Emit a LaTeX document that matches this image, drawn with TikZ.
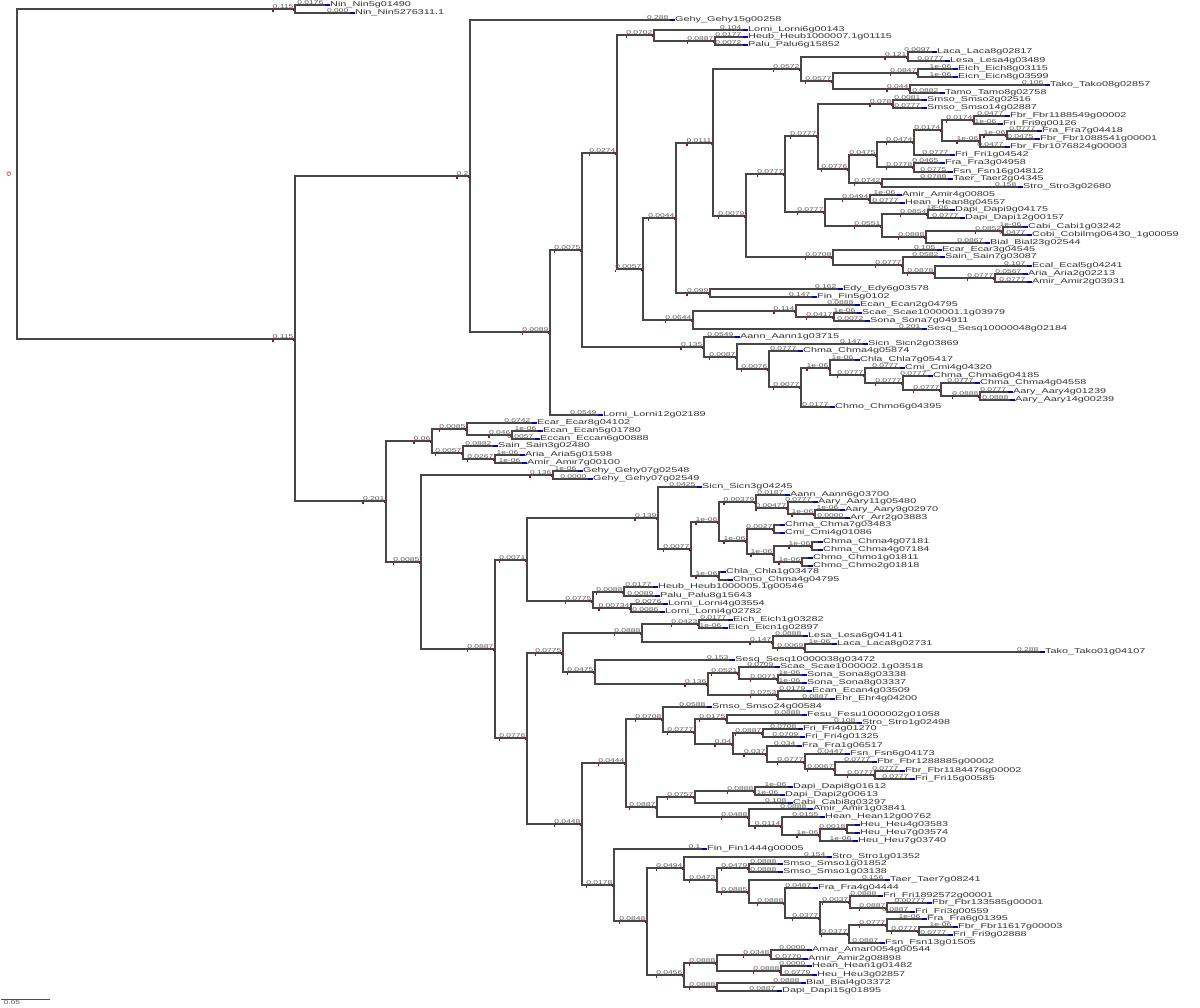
\documentclass[tikz,border=0pt]{standalone}
\usepackage{fontspec}
\newfontfamily\lblfont[FakeStretch=1.55]{Liberation Sans}
\tikzset{
  br/.style={draw=black!72, line width=1.1pt},
  bt/.style={draw=blue!75!black, line width=1.4pt},
  rd/.style={fill=red!75!black},
  lf/.style={anchor=west, inner sep=0pt, text=black!80, font=\lblfont\fontsize{7}{7}\selectfont, text height=4.5pt, text depth=1pt},
  bl/.style={anchor=south east, inner sep=0.4pt, text=black!65, font=\lblfont\fontsize{5.5}{5.5}\selectfont},
}
\newcommand\tnode[5]{%
  \coordinate (#2) at (#3,#4);
  \draw[br] (#1) |- (#2);
  \node[bl] (L#2) at ([xshift=-1pt]#2) {#5};
  \fill[rd] ([yshift=-1.2pt]L#2.south west) rectangle ++(1.6pt,-1.6pt);
  \fill[rd] ([xshift=-2pt,yshift=0.8pt]#2) rectangle ++(1.6pt,-2.4pt);
}
\newcommand\tleaf[6]{%
  \node[lf] (#2) at (#3,#4) {#6};
  \draw[br] (#1) |- ([xshift=-5pt]#2.west);
  \draw[bt] ([xshift=-5pt]#2.west) -- (#2.west);
  \node[bl] at ([xshift=-6pt]#2.west) {#5};
}
\begin{document}
\begin{tikzpicture}[x=1pt,y=-1pt]
\fill[white] (0,0) rectangle (1200,1008);
\useasboundingbox (0,0) rectangle (1200,1008);
\coordinate (r) at (17,174);
\node[bl, anchor=center, rotate=90, text=red!75!black] (rootlab) at (9,174) {0};
% ---------- top ----------
\tnode{r}{N1}{295}{9}{0.115}
\tleaf{N1}{nin1}{330}{5}{0.0176}{Nin\_Nin5g01490}
\tleaf{N1}{nin2}{355}{13}{0.000}{Nin\_Nin5276311.1}
\tnode{r}{B}{295}{339}{0.115}
\tnode{B}{C}{470}{176}{0.2}
\tleaf{C}{gehy15}{675}{20}{0.288}{Gehy\_Gehy15g00258}
\tnode{C}{D}{550}{332}{0.0089}
\tnode{D}{E}{582}{250}{0.0075}
\tnode{E}{F}{617}{153}{0.0274}
\tnode{F}{H}{654}{35}{0.0702}
\tleaf{H}{lorni6}{748}{30}{0.104}{Lorni\_Lorni6g00143}
\tnode{H}{J}{715}{41}{0.0887}
\tleaf{J}{heub7}{748}{37}{0.0177}{Heub\_Heub1000007.1g01115}
\tleaf{J}{palu6}{748}{45}{0.0072}{Palu\_Palu6g15852}
\tnode{F}{I}{643}{269}{0.0057}
\tnode{I}{K}{676}{218}{0.0044}
\tnode{K}{M}{713}{143}{0.0111}
\tnode{M}{N}{801}{69}{0.0572}
\tnode{N}{R}{908}{57}{0.121}
\tleaf{R}{laca8}{937}{52}{0.0097}{Laca\_Laca8g02817}
\tleaf{R}{lesa4}{950}{61}{0.0777}{Lesa\_Lesa4g03489}
\tnode{N}{Q}{833}{81}{0.0577}
\tnode{Q}{S}{918}{73}{0.0847}
\tleaf{S}{eich8}{958}{69}{1e-06}{Eich\_Eich8g03115}
\tleaf{S}{eicn8}{958}{77}{1e-06}{Eicn\_Eicn8g03599}
\tnode{Q}{T}{910}{89}{0.044}
\tleaf{T}{tako8}{1050}{85}{0.106}{Tako\_Tako08g02857}
\tleaf{T}{tamo8}{945}{93}{0.0882}{Tamo\_Tamo8g02758}
\tnode{M}{O}{746}{216}{0.0079}
\tnode{O}{U}{785}{174}{0.0777}
\tnode{U}{W}{818}{136}{0.0777}
\tnode{W}{Y}{893}{104}{0.078}
\tleaf{Y}{smso2}{927}{100}{0.0081}{Smso\_Smso2g02516}
\tleaf{Y}{smso14}{927}{108}{0.0777}{Smso\_Smso14g02887}
\tnode{W}{Z}{849}{169}{0.0776}
\tnode{Z}{AA}{877}{155}{0.0475}
\tnode{AA}{AC}{914}{142}{0.0474}
\tnode{AC}{AE}{942}{130}{0.0174}
\tnode{AE}{AF}{974}{120}{0.0174}
\tleaf{AF}{fbr1188}{1010}{116}{0.0477}{Fbr\_Fbr1188549g00002}
\tleaf{AF}{fri9}{1003}{124}{1e-06}{Fri\_Fri9g00126}
\tnode{AE}{AH}{980}{141}{1e-06}
\tnode{AH}{AG}{1007}{135}{1e-06}
\tleaf{AG}{fra7}{1042}{131}{0.0777}{Fra\_Fra7g04418}
\tleaf{AG}{fbr1088}{1040}{139}{0.0475}{Fbr\_Fbr1088541g00001}
\tleaf{AH}{fbr1076}{1010}{147}{0.0477}{Fbr\_Fbr1076824g00003}
\tleaf{AC}{fri1}{955}{155}{0.0777}{Fri\_Fri1g04542}
\tnode{AA}{AD}{914}{167}{0.0778}
\tleaf{AD}{fra3}{945}{163}{0.0465}{Fra\_Fra3g04958}
\tleaf{AD}{fsn16}{953}{172}{0.0775}{Fsn\_Fsn16g04812}
\tnode{Z}{AB}{882}{183}{0.0742}
\tleaf{AB}{taer2}{953}{179}{0.0788}{Taer\_Taer2g04345}
\tleaf{AB}{stro3}{1023}{187}{0.158}{Stro\_Stro3g02680}
\tnode{U}{X}{825}{212}{0.0777}
\tnode{X}{AI}{870}{199}{0.0494}
\tleaf{AI}{amir4}{902}{195}{1e-06}{Amir\_Amir4g00805}
\tleaf{AI}{hean8}{905}{203}{0.0777}{Hean\_Hean8g04557}
\tnode{X}{AJ}{882}{226}{0.0551}
\tnode{AJ}{AK}{928}{214}{0.0854}
\tleaf{AK}{dapi9}{955}{210}{1e-06}{Dapi\_Dapi9g04175}
\tleaf{AK}{dapi12}{965}{218}{0.0777}{Dapi\_Dapi12g00157}
\tnode{AJ}{AL}{926}{237}{0.0888}
\tnode{AL}{AM}{1003}{231}{0.0852}
\tleaf{AM}{cabi1}{1028}{227}{1e-06}{Cabi\_Cabi1g03242}
\tleaf{AM}{cobi}{1032}{235}{0.0477}{Cobi\_Cobilmg06430\_1g00059}
\tleaf{AL}{bial23}{990}{243}{0.0867}{Bial\_Bial23g02544}
\tnode{O}{V}{833}{257}{0.0708}
\tleaf{V}{ecar3}{942}{250}{0.105}{Ecar\_Ecar3g04545}
\tnode{V}{AN}{903}{265}{0.0777}
\tleaf{AN}{sain7}{945}{257}{0.0582}{Sain\_Sain7g03087}
\tnode{AN}{AO}{935}{273}{0.0878}
\tleaf{AO}{ecal5}{1032}{266}{0.107}{Ecal\_Ecal5g04241}
\tnode{AO}{AP}{995}{278}{0.0777}
\tleaf{AP}{aria2}{1028}{274}{0.0567}{Aria\_Aria2g02213}
\tleaf{AP}{amir2}{1032}{282}{0.0777}{Amir\_Amir2g03931}
\tnode{K}{P}{710}{293}{0.099}
\tleaf{P}{edy6}{843}{289}{0.162}{Edy\_Edy6g03578}
\tleaf{P}{fin5}{817}{297}{0.147}{Fin\_Fin5g0102}
\tnode{I}{L}{693}{320}{0.0644}
\tnode{L}{AQ}{796}{311}{0.114}
\tleaf{AQ}{ecan2}{860}{305}{0.0888}{Ecan\_Ecan2g04795}
\tnode{AQ}{AR}{834}{317}{0.0417}
\tleaf{AR}{scae1}{862}{313}{1e-06}{Scae\_Scae1000001.1g03979}
\tleaf{AR}{sona7}{870}{321}{0.0072}{Sona\_Sona7g04911}
\tleaf{L}{sesq48}{927}{329}{0.201}{Sesq\_Sesq10000048g02184}
\tnode{E}{G}{704}{347}{0.135}
\tleaf{G}{aann1}{740}{337}{0.0549}{Aann\_Aann1g03715}
\tnode{G}{AS}{737}{357}{0.0087}
\tleaf{AS}{sicn2}{868}{344}{0.147}{Sicn\_Sicn2g03869}
\tnode{AS}{AT}{769}{369}{0.0076}
\tleaf{AT}{chma4a}{803}{351}{0.0777}{Chma\_Chma4g05874}
\tnode{AT}{AU}{801}{387}{0.0077}
\tnode{AU}{AV}{830}{368}{1e-06}
\tleaf{AV}{chla7}{860}{360}{1e-06}{Chla\_Chla7g05417}
\tnode{AV}{AW}{865}{375}{0.0777}
\tleaf{AW}{cmi4}{905}{368}{0.0777}{Cmi\_Cmi4g04320}
\tnode{AW}{AX}{903}{383}{0.0777}
\tleaf{AX}{chma6}{933}{376}{0.0777}{Chma\_Chma6g04185}
\tnode{AX}{AY}{941}{390}{0.0777}
\tleaf{AY}{chma4b}{980}{383}{0.0777}{Chma\_Chma4g04558}
\tnode{AY}{AZ}{980}{396}{0.0888}
\tleaf{AZ}{aary4}{1013}{392}{0.0777}{Aary\_Aary4g01239}
\tleaf{AZ}{aary14}{1015}{400}{0.0888}{Aary\_Aary14g00239}
\tleaf{AU}{chmo6}{835}{407}{0.0177}{Chmo\_Chmo6g04395}
\tleaf{D}{lorni12}{603}{415}{0.0549}{Lorni\_Lorni12g02189}
% ---------- bottom ----------
\tnode{B}{BA}{386}{501}{0.201}
\tnode{BA}{BB}{432}{441}{0.06}
\tnode{BB}{BC}{467}{429}{0.0085}
\tleaf{BC}{ecar8}{537}{423}{0.0742}{Ecar\_Ecar8g04102}
\tnode{BC}{BD}{512}{435}{0.046}
\tleaf{BD}{ecan5}{543}{431}{1e-06}{Ecan\_Ecan5g01780}
\tleaf{BD}{eccan6}{540}{439}{0.0057}{Eccan\_Eccan6g00888}
\tnode{BB}{BE}{463}{453}{0.0057}
\tleaf{BE}{sain3}{498}{446}{0.0882}{Sain\_Sain3g02480}
\tnode{BE}{BF}{495}{459}{0.0267}
\tleaf{BF}{aria5}{525}{455}{1e-06}{Aria\_Aria5g01598}
\tleaf{BF}{amir7}{527}{463}{1e-06}{Amir\_Amir7g00100}
\tnode{BA}{BG}{421}{562}{0.0085}
\tnode{BG}{BH}{553}{475}{0.136}
\tleaf{BH}{gehy48}{583}{471}{1e-06}{Gehy\_Gehy07g02548}
\tleaf{BH}{gehy49}{593}{479}{0.0000}{Gehy\_Gehy07g02549}
\tnode{BG}{BI}{495}{649}{0.0887}
\tnode{BI}{BJ}{527}{560}{0.0071}
\tnode{BJ}{BK}{658}{518}{0.139}
\tleaf{BK}{sicn3}{702}{487}{0.0425}{Sicn\_Sicn3g04245}
\tnode{BK}{BL}{691}{549}{0.0077}
\tnode{BL}{BM}{719}{522}{1e-06}
\tnode{BM}{BN}{756}{502}{0.00379}
\tleaf{BN}{aann6}{790}{495}{0.0187}{Aann\_Aann6g03700}
\tnode{BN}{BP}{788}{508}{0.00477}
\tleaf{BP}{aary11}{818}{502}{0.0777}{Aary\_Aary11g05480}
\tnode{BP}{BO}{815}{514}{1e-06}
\tleaf{BO}{aary9}{845}{510}{1e-06}{Aary\_Aary9g02970}
\tleaf{BO}{arr2}{850}{518}{0.0000}{Arr\_Arr2g03883}
\tnode{BM}{BQ}{747}{541}{1e-06}
\tnode{BQ}{BR}{774}{529}{0.0027}
\tleaf{BR}{chma7}{785}{525}{}{Chma\_Chma7g03483}
\tleaf{BR}{cmi4b}{785}{533}{}{Cmi\_Cmi4g01086}
\tnode{BQ}{BS}{774}{554}{1e-06}
\tnode{BS}{BT}{812}{546}{1e-06}
\tleaf{BT}{chma4c}{823}{542}{}{Chma\_Chma4g07181}
\tleaf{BT}{chma4d}{823}{550}{}{Chma\_Chma4g07184}
\tnode{BS}{BU}{802}{562}{1e-06}
\tleaf{BU}{chmo1}{813}{558}{}{Chmo\_Chmo1g01811}
\tleaf{BU}{chmo2}{813}{566}{}{Chmo\_Chmo2g01818}
\tnode{BL}{BV}{719}{576}{1e-06}
\tleaf{BV}{chla1}{726}{572}{}{Chla\_Chla1g03478}
\tleaf{BV}{chmo4}{733}{580}{}{Chmo\_Chma4g04795}
\tnode{BJ}{BW}{593}{601}{0.0775}
\tnode{BW}{BX}{624}{592}{0.0088}
\tleaf{BX}{heub5}{658}{587}{0.0177}{Heub\_Heub1000005.1g00546}
\tleaf{BX}{palu8}{660}{596}{0.0089}{Palu\_Palu8g15643}
\tnode{BW}{BY}{631}{608}{0.00734}
\tleaf{BY}{lorni4a}{668}{604}{0.0076}{Lorni\_Lorni4g03554}
\tleaf{BY}{lorni4b}{665}{612}{0.0086}{Lorni\_Lorni4g02782}
\tnode{BI}{BZ}{527}{738}{0.0776}
\tnode{BZ}{CA}{563}{653}{0.0775}
\tnode{CA}{CB}{642}{633}{0.0888}
\tnode{CB}{CC}{699}{624}{0.0423}
\tleaf{CC}{eich1}{733}{620}{0.0177}{Eich\_Eich1g03282}
\tleaf{CC}{eicn1}{728}{628}{1e-06}{Eicn\_Eicn1g02897}
\tnode{CB}{CD}{773}{642}{0.147}
\tleaf{CD}{lesa6}{808}{636}{0.0888}{Lesa\_Lesa6g04141}
\tnode{CD}{CE}{805}{648}{0.0069}
\tleaf{CE}{laca8b}{837}{644}{1e-06}{Laca\_Laca8g02731}
\tleaf{CE}{tako1}{1045}{652}{0.288}{Tako\_Tako01g04107}
\tnode{CA}{CF}{595}{672}{0.0475}
\tleaf{CF}{sesq38}{735}{660}{0.153}{Sesq\_Sesq10000038g03472}
\tnode{CF}{CG}{708}{684}{0.136}
\tnode{CG}{CH}{739}{673}{0.0521}
\tleaf{CH}{scae2}{780}{667}{0.0709}{Scae\_Scae1000002.1g03518}
\tnode{CH}{CI}{778}{679}{0.0071}
\tleaf{CI}{sona8a}{807}{675}{1e-06}{Sona\_Sona8g03338}
\tleaf{CI}{sona8b}{807}{683}{1e-06}{Sona\_Sona8g03337}
\tnode{CG}{CJ}{778}{695}{0.0753}
\tleaf{CJ}{ecan4}{812}{691}{0.0179}{Ecan\_Ecan4g03509}
\tleaf{CJ}{ehr4}{835}{699}{0.0887}{Ehr\_Ehr4g04200}
\tnode{BZ}{CK}{582}{824}{0.0448}
\tnode{CK}{CL}{626}{763}{0.0444}
\tnode{CL}{CM}{663}{719}{0.0708}
\tleaf{CM}{smso24}{712}{707}{0.0588}{Smso\_Smso24g00584}
\tnode{CM}{CN}{695}{732}{0.0777}
\tnode{CN}{CO}{727}{719}{0.0175}
\tleaf{CO}{fesu}{807}{715}{0.0888}{Fesu\_Fesu1000002g01058}
\tleaf{CO}{stro1a}{862}{723}{0.108}{Stro\_Stro1g02498}
\tnode{CN}{CP}{733}{744}{0.04}
\tnode{CP}{CQ}{763}{733}{0.0887}
\tleaf{CQ}{fri4a}{803}{729}{0.0708}{Fri\_Fri4g01270}
\tleaf{CQ}{fri4b}{805}{737}{0.0709}{Fri\_Fri4g01325}
\tnode{CP}{CR}{767}{754}{0.037}
\tleaf{CR}{fra1}{802}{746}{0.034}{Fra\_Fra1g06517}
\tnode{CR}{CS}{805}{762}{0.0777}
\tleaf{CS}{fsn6}{850}{754}{0.0447}{Fsn\_Fsn6g04173}
\tnode{CS}{CT}{835}{769}{0.0067}
\tleaf{CT}{fbr1288}{877}{762}{0.0777}{Fbr\_Fbr1288885g00002}
\tnode{CT}{CU}{875}{775}{0.0777}
\tleaf{CU}{fbr1184}{905}{771}{0.0777}{Fbr\_Fbr1184476g00002}
\tleaf{CU}{fri15}{915}{779}{0.0777}{Fri\_Fri15g00585}
\tnode{CL}{CV}{657}{807}{0.0887}
\tnode{CV}{CW}{695}{797}{0.0757}
\tnode{CW}{CX}{755}{791}{0.0888}
\tleaf{CX}{dapi8}{793}{787}{1e-06}{Dapi\_Dapi8g01612}
\tleaf{CX}{dapi2}{785}{795}{1e-06}{Dapi\_Dapi2g00613}
\tleaf{CW}{cabi8}{793}{803}{0.108}{Cabi\_Cabi8g03297}
\tnode{CV}{CY}{749}{817}{0.0488}
\tleaf{CY}{amir1}{813}{809}{0.0888}{Amir\_Amir1g03841}
\tnode{CY}{CZ}{782}{826}{0.0114}
\tleaf{CZ}{hean12}{825}{817}{0.0155}{Hean\_Hean12g00762}
\tnode{CZ}{DA}{820}{835}{1e-06}
\tnode{DA}{DB}{847}{829}{0.0018}
\tleaf{DB}{heu4}{860}{825}{}{Heu\_Heu4g03583}
\tleaf{DB}{heu7a}{860}{833}{}{Heu\_Heu7g03574}
\tleaf{DA}{heu7b}{858}{841}{1e-06}{Heu\_Heu7g03740}
\tnode{CK}{DC}{614}{885}{0.0178}
\tleaf{DC}{fin1444}{707}{849}{0.1}{Fin\_Fin1444g00005}
\tnode{DC}{DD}{647}{921}{0.0848}
\tnode{DD}{DE}{684}{868}{0.0494}
\tleaf{DE}{stro1b}{832}{857}{0.154}{Stro\_Stro1g01352}
\tnode{DE}{DF}{717}{880}{0.0473}
\tnode{DF}{DG}{749}{868}{0.0479}
\tleaf{DG}{smso1a}{783}{864}{0.0888}{Smso\_Smso1g01852}
\tleaf{DG}{smso1b}{783}{872}{0.0888}{Smso\_Smso1g03138}
\tnode{DF}{DH}{749}{892}{0.0885}
\tleaf{DH}{taer7}{890}{880}{0.156}{Taer\_Taer7g08241}
\tnode{DH}{DI}{785}{903}{0.0888}
\tleaf{DI}{fra4}{818}{888}{0.0487}{Fra\_Fra4g04444}
\tnode{DI}{DJ}{820}{918}{0.0377}
\tnode{DJ}{DK}{850}{902}{0.0037}
\tleaf{DK}{fri1892}{883}{896}{0.0888}{Fri\_Fri1892572g00001}
\tnode{DK}{DL}{887}{908}{0.0887}
\tleaf{DL}{fbr1335}{932}{903}{0.00777}{Fbr\_Fbr133585g00001}
\tleaf{DL}{fri3}{915}{912}{0.0887}{Fri\_Fri3g00559}
\tnode{DJ}{DM}{849}{934}{0.0377}
\tnode{DM}{DN}{887}{925}{0.0777}
\tleaf{DN}{fra6}{927}{919}{1e-06}{Fra\_Fra6g01395}
\tnode{DN}{DO}{919}{931}{0.0777}
\tleaf{DO}{fbr116}{958}{927}{1e-06}{Fbr\_Fbr11617g00003}
\tleaf{DO}{fri9b}{953}{935}{0.0777}{Fri\_Fri9g02888}
\tleaf{DM}{fsn13}{885}{943}{0.0887}{Fsn\_Fsn13g01505}
\tnode{DD}{DP}{684}{975}{0.0456}
\tnode{DP}{DQ}{717}{963}{0.0888}
\tnode{DQ}{DR}{771}{955}{0.0348}
\tleaf{DR}{amar}{812}{950}{0.0000}{Amar\_Amar0054g00544}
\tleaf{DR}{amir2b}{808}{959}{0.0770}{Amir\_Amir2g08898}
\tnode{DQ}{DS}{781}{971}{0.0888}
\tleaf{DS}{hean1}{812}{966}{0.0000}{Hean\_Hean1g01482}
\tleaf{DS}{heu3}{817}{975}{0.0779}{Heu\_Heu3g02857}
\tnode{DP}{DT}{717}{987}{0.0888}
\tleaf{DT}{bial4}{806}{983}{0.0888}{Bial\_Bial4g03372}
\tleaf{DT}{dapi15}{782}{991}{0.0887}{Dapi\_Dapi15g01895}
% ---------- scale bar ----------
\coordinate (sb1) at (1,999);
\coordinate (sb2) at (50,999);
\draw[black!70, line width=0.8pt] (sb1) -- (sb2);
\node[bl, anchor=north west] (sblab) at (3,1000) {0.05};
\end{tikzpicture}
\end{document}
